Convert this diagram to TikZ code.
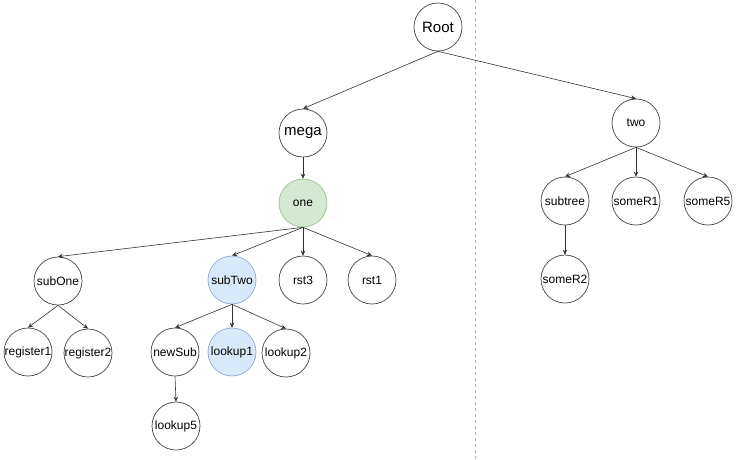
\documentclass[tikz,border=0pt]{standalone}
\usepackage{fontspec}
\setmainfont{Liberation Sans}
\usetikzlibrary{arrows.meta}
\definecolor{edgec}{HTML}{333333}
\definecolor{ringc}{HTML}{444444}
\definecolor{gfill}{HTML}{D5E8D4}
\definecolor{gline}{HTML}{9CC38A}
\definecolor{bfill}{HTML}{DAE8FC}
\definecolor{bline}{HTML}{8FA9D2}
\tikzset{
  tn/.style={circle,draw=ringc,line width=0.7pt,minimum size=48pt,inner sep=0pt,font=\fontsize{12}{14}\selectfont,text=black},
  big/.style={font=\fontsize{15}{18}\selectfont},
  green/.style={fill=gfill,draw=gline},
  blue/.style={fill=bfill,draw=bline},
  arr/.style={draw=edgec,line width=0.6pt,-{Stealth[length=5pt,width=4.5pt]}},
}
\begin{document}
\begin{tikzpicture}[x=1pt,y=-1pt]
\useasboundingbox (0,0) rectangle (738,459);
\draw[gray!60,dashed,line width=0.6pt] (475,0) -- (475,459);
\node[tn,big] (root) at (438,27) {Root};
\node[tn,big] (mega) at (303,133) {mega};
\node[tn,green] (one) at (303,203) {one};
\node[tn] (subOne) at (58,281) {subOne};
\node[tn,blue] (subTwo) at (232,280) {subTwo};
\node[tn] (rst3) at (303,280) {rst3};
\node[tn] (rst1) at (372,280) {rst1};
\node[tn] (reg1) at (28,352) {register1};
\node[tn] (reg2) at (88,353) {register2};
\node[tn] (newSub) at (175,352) {newSub};
\node[tn,blue] (lookup1) at (232,352) {lookup1};
\node[tn] (lookup2) at (286,353) {lookup2};
\node[tn] (lookup5) at (176,426) {lookup5};
\node[tn] (two) at (636,123) {two};
\node[tn] (subtree) at (565,201) {subtree};
\node[tn] (someR1) at (636,201) {someR1};
\node[tn] (someR5) at (708,201) {someR5};
\node[tn] (someR2) at (565,279) {someR2};
\draw[arr] (root.south) -- (mega.north);
\draw[arr] (root.south) -- (two.north);
\draw[arr] (mega.south) -- (one.north);
\draw[arr] (one.south) -- (subOne.north);
\draw[arr] (one.south) -- (subTwo.north);
\draw[arr] (one.south) -- (rst3.north);
\draw[arr] (one.south) -- (rst1.north);
\draw[arr] (subOne.south) -- (reg1.north);
\draw[arr] (subOne.south) -- (reg2.north);
\draw[arr] (subTwo.south) -- (newSub.north);
\draw[arr] (subTwo.south) -- (lookup1.north);
\draw[arr] (subTwo.south) -- (lookup2.north);
\draw[arr] (newSub.south) -- (lookup5.north);
\draw[arr] (two.south) -- (subtree.north);
\draw[arr] (two.south) -- (someR1.north);
\draw[arr] (two.south) -- (someR5.north);
\draw[arr] (subtree.south) -- (someR2.north);
\end{tikzpicture}
\end{document}
